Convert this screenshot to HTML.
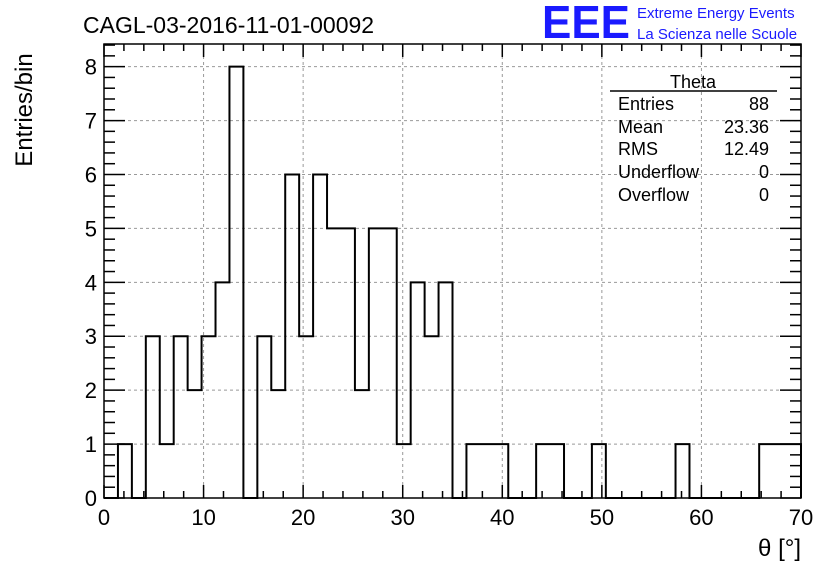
<!DOCTYPE html>
<html><head><meta charset="utf-8"><style>
body{margin:0;background:#fff;}
svg text{font-family:"Liberation Sans",Arial,sans-serif;}
</style></head><body>
<svg id="c" width="836" height="572" xmlns="http://www.w3.org/2000/svg">
<text x="83" y="33" font-size="23">CAGL-03-2016-11-01-00092</text>
<text x="542" y="38" font-size="46" fill="#1a1aff" font-weight="bold" textLength="88" lengthAdjust="spacingAndGlyphs">EEE</text>
<text x="637" y="18" font-size="15" fill="#1a1aff">Extreme Energy Events</text>
<text x="637" y="39" font-size="15" fill="#1a1aff">La Scienza nelle Scuole</text>
<text transform="translate(32,110) rotate(-90)" font-size="24" text-anchor="middle">Entries/bin</text>
<text x="801" y="556" font-size="24" text-anchor="end">θ [°]</text>
<g id="grid"></g><g id="hist"></g><g id="axes"></g>
<g>
<line x1="610" y1="91" x2="777" y2="91" stroke="#000" stroke-width="1.5"/>
<text x="693" y="88" font-size="18" text-anchor="middle">Theta</text>
<text x="618" y="110" font-size="18">Entries</text><text x="769" y="110" font-size="18" text-anchor="end">88</text>
<text x="618" y="133" font-size="18">Mean</text><text x="769" y="133" font-size="18" text-anchor="end">23.36</text>
<text x="618" y="155" font-size="18">RMS</text><text x="769" y="155" font-size="18" text-anchor="end">12.49</text>
<text x="618" y="178" font-size="18">Underflow</text><text x="769" y="178" font-size="18" text-anchor="end">0</text>
<text x="618" y="201" font-size="18">Overflow</text><text x="769" y="201" font-size="18" text-anchor="end">0</text>
</g>
</svg>
<script>
const binCounts=[0,1,0,3,1,3,2,3,4,8,0,3,2,6,3,6,5,5,2,5,5,1,4,3,4,0,1,1,1,0,0,1,1,0,0,1,0,0,0,0,0,1,0,0,0,0,0,1,1,1];
const xMin=0, xMax=70;
const yMin=0, yMax=8.42;
const xTicks=[0,10,20,30,40,50,60,70];
const yTicks=[0,1,2,3,4,5,6,7,8];
const L=104,R=801,T=44,B=498;
const NS="http://www.w3.org/2000/svg";
const X=v=>L+(v-xMin)/(xMax-xMin)*(R-L);
const Y=v=>B-(v-yMin)/(yMax-yMin)*(B-T);
function mk(t,a,p){const e=document.createElementNS(NS,t);for(const k in a)e.setAttribute(k,a[k]);p.appendChild(e);return e;}
const grid=document.getElementById('grid'),axes=document.getElementById('axes'),hist=document.getElementById('hist');
xTicks.forEach(v=>{const g=mk('line',{x1:X(v),x2:X(v),y1:T,y2:B,stroke:'#999','stroke-dasharray':'3,3'},grid);


const t=mk('text',{x:X(v),y:B+27,'font-size':22,'text-anchor':'middle'},axes);t.textContent=v;

});
yTicks.forEach(v=>{const g=mk('line',{x1:L,x2:R,y1:Y(v),y2:Y(v),stroke:'#999','stroke-dasharray':'3,3'},grid);


const t=mk('text',{x:L-7,y:Y(v)+8,'font-size':22,'text-anchor':'end'},axes);t.textContent=v;

});
for(let v=xMin;v<=xMax;v+=2){const big=v%10===0;mk('line',{x1:X(v),x2:X(v),y1:B,y2:B-(big?13:7),stroke:'#000','stroke-width':1.5},axes);mk('line',{x1:X(v),x2:X(v),y1:T,y2:T+(big?13:7),stroke:'#000','stroke-width':1.5},axes);}
for(let i=0;i<=Math.floor(yMax*5);i++){const v=i/5;const big=i%5===0;mk('line',{x1:L,x2:L+(big?21:11),y1:Y(v),y2:Y(v),stroke:'#000','stroke-width':1.5},axes);mk('line',{x1:R,x2:R-(big?21:11),y1:Y(v),y2:Y(v),stroke:'#000','stroke-width':1.5},axes);}
const f=mk('rect',{x:L,y:T,width:R-L,height:B-T,fill:'none',stroke:'#000','stroke-width':1.5},axes);


const w=(xMax-xMin)/binCounts.length;
let d=`M${X(xMin)},${Y(0)}`;
binCounts.forEach((c,i)=>{d+=` L${X(xMin+i*w)},${Y(c)} L${X(xMin+(i+1)*w)},${Y(c)}`;});
d+=` L${X(xMax)},${Y(0)}`;
const p=mk('path',{d:d,fill:'none',stroke:'#000','stroke-width':2},hist);


</script>
</body></html>
